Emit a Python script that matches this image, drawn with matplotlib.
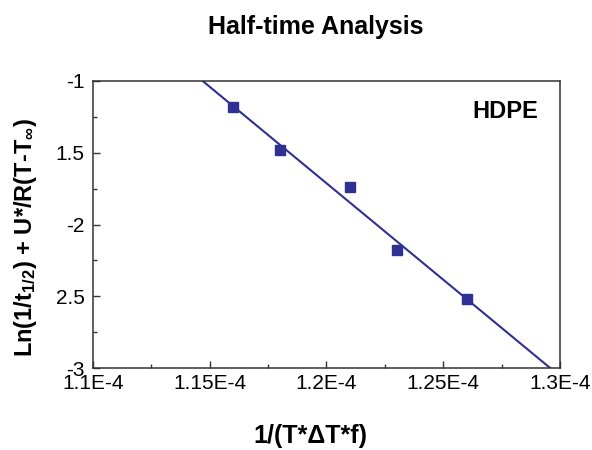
import matplotlib
matplotlib.use("Agg")
import matplotlib.pyplot as plt
import numpy as np
from matplotlib.ticker import FixedLocator, FixedFormatter, MultipleLocator

plt.rcParams['font.family'] = ['Liberation Sans', 'DejaVu Sans']
plt.rcParams['mathtext.fontset'] = 'custom'
plt.rcParams['mathtext.rm'] = 'Liberation Sans:bold'
plt.rcParams['mathtext.it'] = 'Liberation Sans:bold'
plt.rcParams['mathtext.bf'] = 'Liberation Sans:bold'

# data
inv_t = [1.16e-4, 1.18e-4, 1.21e-4, 1.23e-4, 1.26e-4]
ln_val = [-1.18, -1.48, -1.74, -2.18, -2.52]

xticks = [1.1e-4, 1.15e-4, 1.2e-4, 1.25e-4, 1.3e-4]
xtick_labels = ["1.1E-4", "1.15E-4", "1.2E-4", "1.25E-4", "1.3E-4"]
yticks = [-1, -1.5, -2, -2.5, -3]
ytick_labels = ["-1", "1.5", "-2", "2.5", "-3"]

blue = '#2e3192'

fig = plt.figure(figsize=(5.92, 4.5), dpi=100)
ax = fig.add_axes([0.1571, 0.1822, 0.7888, 0.6378])

# linear fit
k, b = np.polyfit(inv_t, ln_val, 1)
xfit = np.array([1.1e-4, 1.3e-4])
ax.plot(xfit, k * xfit + b, color=blue, lw=1.5, zorder=2)
ax.plot(inv_t, ln_val, 's', color=blue, ms=7, zorder=3)

ax.set_xlim(1.1e-4, 1.3e-4)
ax.set_ylim(-3, -1)

ax.xaxis.set_major_locator(FixedLocator(xticks))
ax.xaxis.set_major_formatter(FixedFormatter(xtick_labels))
ax.xaxis.set_minor_locator(MultipleLocator(0.25e-5))
ax.yaxis.set_major_locator(FixedLocator(yticks))
ax.yaxis.set_major_formatter(FixedFormatter(ytick_labels))
ax.yaxis.set_minor_locator(MultipleLocator(0.25))

ax.tick_params(which='both', direction='in', top=False, right=False,
               colors='#333333', labelcolor='black', labelsize=15)
ax.tick_params(which='major', length=5, width=1)
ax.tick_params(which='minor', length=3, width=1)
ax.tick_params(axis='x', pad=4)
ax.tick_params(axis='y', pad=6)
for s in ax.spines.values():
    s.set_color('#333333')
    s.set_linewidth(1.1)

ax.text(0.953, 0.894, "HDPE", transform=ax.transAxes, ha='right', va='center',
        fontsize=17, fontweight='bold')

ax.set_xlabel("1/(T*\u0394T*f)", fontsize=18, fontweight='bold')
ax.xaxis.set_label_coords(0.465, -0.195)
ax.set_ylabel(r"Ln(1/t$_{1/2}$) + U*/R(T-T$_{\infty}$)", fontsize=17, fontweight='bold')
ax.yaxis.set_label_coords(-0.115, 0.453)

fig.text(316 / 592, 1 - 27 / 450, "Half-time Analysis", ha='center', va='center',
         fontsize=18, fontweight='bold')

fig.savefig("out.png", dpi=100)
